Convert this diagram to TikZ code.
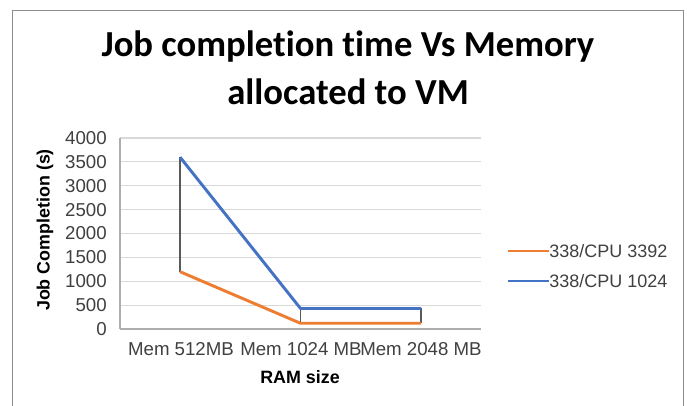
\documentclass[tikz,border=0pt]{standalone}
\usepackage{fontspec}
\setmainfont{Liberation Sans}
\newfontfamily\titlefont[Ligatures=NoCommon]{Carlito}
\definecolor{sOrange}{HTML}{ED7D31}
\definecolor{sBlue}{HTML}{4472C4}
\definecolor{gridc}{HTML}{D9D9D9}
\definecolor{framec}{HTML}{8C8C8C}
\definecolor{dropc}{HTML}{595959}
\definecolor{textc}{HTML}{404040}
\begin{document}
\begin{tikzpicture}[x=0.75pt,y=-0.75pt,
  gridline/.style={gridc, line width=0.9pt},
  axisline/.style={gridc!80!black, line width=0.9pt},
  series/.style={line width=2.2pt, line join=round},
  dropline/.style={dropc, line width=0.8pt},
  ticklab/.style={font=\fontsize{14}{16}\selectfont, text=textc, inner sep=0pt},
  leglab/.style={font=\fontsize{13.5}{16}\selectfont, text=textc, inner sep=0pt},
  axtitle/.style={font=\fontsize{13.4}{15}\selectfont\bfseries, text=black, inner sep=0pt},
  titletext/.style={font=\titlefont\fontsize{27.5}{32}\selectfont\bfseries, inner sep=0pt, anchor=base}]
\useasboundingbox (0,0) rectangle (687,406);
\fill[white] (0,0) rectangle (687,406);
% frame
\draw[framec, line width=0.9pt] (12.3,406) -- (12.3,10.3) -- (683.3,10.3) -- (683.3,406);
% title
\node[titletext] (t1) at (348,57) {Job completion time Vs Memory};
\node[titletext] (t2) at (348,105) {allocated to VM};
% grid
\foreach \v in {500,1000,...,4000} {
  \draw[gridline] (120,{329-\v*0.04775}) -- (481,{329-\v*0.04775});
}
\draw[axisline] (120,138) -- (120,329);
\draw[axisline] (120,329) -- (481,329);
% tick labels
\foreach \v in {0,500,...,4000} {
  \node[ticklab, anchor=east] (y\v) at (107,{329-\v*0.04775}) {\v};
}
% categories
\node[ticklab] (c1) at (181,349) {Mem 512MB};
\node[ticklab] (c2) at (301,349) {Mem 1024 MB};
\node[ticklab] (c3) at (421,349) {Mem 2048 MB};
% data points
\coordinate (o1) at (180,{329-1200*0.04775});
\coordinate (o2) at (300.5,{329-120*0.04775});
\coordinate (o3) at (421,{329-120*0.04775});
\coordinate (b1) at (180,{329-3600*0.04775});
\coordinate (b2) at (300.5,{329-430*0.04775});
\coordinate (b3) at (421,{329-430*0.04775});
% drop lines
\draw[dropline] (b1) -- (o1);
\draw[dropline] (b2) -- (o2);
\draw[dropline] (b3) -- (o3);
% series
\draw[series, sOrange] (o1) -- (o2) -- (o3);
\draw[series, sBlue] (b1) -- (b2) -- (b3);
% axis titles
\node[axtitle] (xt) at (300,377) {RAM size};
\node[axtitle, rotate=90] (yt) at (45,230) {Job Completion (s)};
% legend
\node[leglab, anchor=west] (l1) at (549,251) {338/CPU 3392};
\node[leglab, anchor=west] (l2) at (549,281) {338/CPU 1024};
\coordinate (l1s) at (508,251);
\coordinate (l2s) at (508,281);
\draw[series, sOrange] (l1s) -- (l1.west);
\draw[series, sBlue] (l2s) -- (l2.west);
\end{tikzpicture}
\end{document}
